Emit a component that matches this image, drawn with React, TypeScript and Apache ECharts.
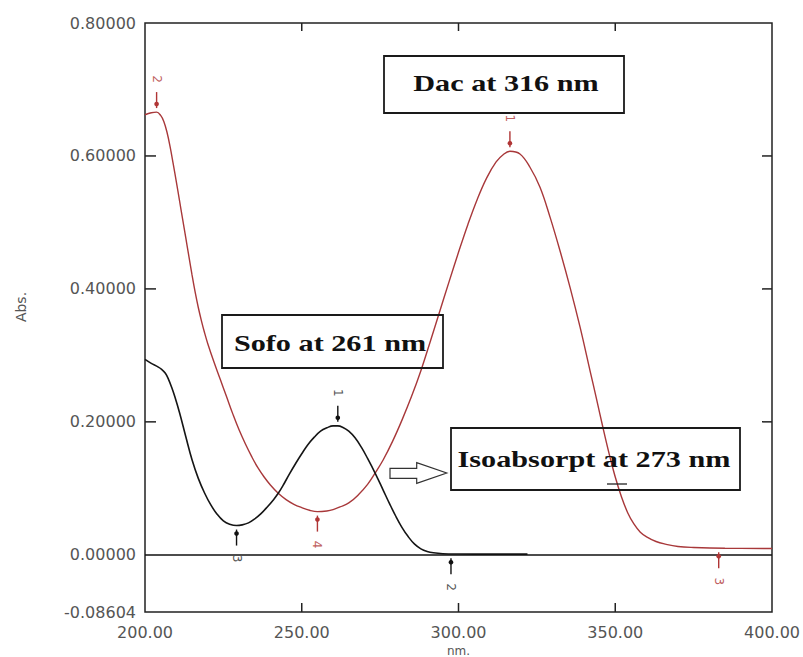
import React, { useEffect, useRef } from "react";
import * as echarts from "echarts";

// ---- Data ----
// Dac (red) spectrum
const dacNm = [200, 202, 203.7, 205, 206, 207, 208, 209, 210, 211, 212, 213, 214, 215, 216, 217, 218, 219, 220, 222, 224, 226, 228, 230, 232, 234, 236, 238, 240, 242.5, 245, 247.5, 250, 252.5, 255, 258, 260, 262.2, 265, 268, 271, 273.4, 276, 279, 282, 285, 288, 291, 294, 297, 300, 303, 306, 309, 312, 314.5, 316.4, 319.6, 322.8, 326, 329.2, 332.4, 335.6, 338.8, 342, 344, 346, 348, 350, 352, 354, 356, 358, 360, 363, 366, 370, 375, 385, 400];
const dacAbs = [0.662, 0.665, 0.666, 0.661, 0.652, 0.636, 0.614, 0.588, 0.561, 0.533, 0.505, 0.477, 0.449, 0.421, 0.395, 0.372, 0.352, 0.334, 0.318, 0.29, 0.264, 0.238, 0.212, 0.188, 0.167, 0.148, 0.131, 0.117, 0.105, 0.0925, 0.083, 0.076, 0.071, 0.067, 0.065, 0.066, 0.068, 0.072, 0.078, 0.09, 0.106, 0.123, 0.143, 0.171, 0.203, 0.238, 0.277, 0.321, 0.366, 0.411, 0.455, 0.497, 0.535, 0.567, 0.591, 0.603, 0.607, 0.603, 0.583, 0.553, 0.508, 0.457, 0.402, 0.342, 0.276, 0.235, 0.193, 0.153, 0.117, 0.087, 0.063, 0.046, 0.034, 0.027, 0.02, 0.016, 0.0125, 0.011, 0.0098, 0.0095];

// Sofo (black) spectrum
const sofoNm = [200, 202, 204, 205.3, 206.5, 207.5, 208.5, 209.5, 211, 213, 215, 217, 219, 221, 223, 225, 227, 229.2, 231, 233, 235, 237, 239, 241, 242.5, 244, 246, 248, 250, 252, 254, 256, 258, 260, 261.5, 263, 265, 267, 269, 271, 273.4, 276, 278, 280, 282, 284, 286, 288, 290, 292, 295, 300, 310, 322];
const sofoAbs = [0.294, 0.288, 0.283, 0.279, 0.273, 0.264, 0.252, 0.238, 0.214, 0.178, 0.143, 0.115, 0.093, 0.075, 0.061, 0.051, 0.046, 0.044, 0.045, 0.048, 0.054, 0.062, 0.072, 0.083, 0.0925, 0.104, 0.121, 0.137, 0.152, 0.166, 0.177, 0.186, 0.191, 0.194, 0.194, 0.192, 0.186, 0.176, 0.162, 0.145, 0.123, 0.097, 0.077, 0.058, 0.041, 0.027, 0.016, 0.009, 0.005, 0.003, 0.0017, 0.0012, 0.001, 0.001];

// Peak / valley pick markers (dir: 1 = peak marked from above, -1 = valley marked from below)
const dacMarkNm = [316.4, 203.7, 383, 255];
const dacMarkAbs = [0.607, 0.666, 0.0097, 0.065];
const dacMarkDir = [1, 1, -1, -1];
const dacMarkLabel = ["1", "2", "3", "4"];

const sofoMarkNm = [261.5, 297.6, 229.2];
const sofoMarkAbs = [0.194, 0.001, 0.044];
const sofoMarkDir = [1, -1, -1];
const sofoMarkLabel = ["1", "2", "3"];

const yTickValues = [-0.08604, 0, 0.2, 0.4, 0.6, 0.8];
const yInnerTicks = [0.2, 0.4, 0.6];
const xInnerTicks = [250, 300, 350];

const yAxisTitle = "Abs.";
const xAxisTitle = "nm.";
const annotations = ["Dac at 316 nm", "Sofo at 261 nm", "Isoabsorpt at 273 nm"];

const RED = "#a8383a";
const BLACK = "#151515";
const TICK = "#222";

function markerSeries(nm: number[], abs: number[], dir: number[], labels: string[], color: string, labelColor: string) {
  return {
    type: "custom",
    xAxisIndex: 0,
    yAxisIndex: 0,
    silent: true,
    clip: false,
    z: 5,
    data: nm.map((n, i) => [n, abs[i], dir[i]]),
    renderItem: (params: any, api: any) => {
      const p = api.coord([api.value(0), api.value(1)]);
      const d = api.value(2);
      const x = p[0];
      const y = p[1];
      const label = labels[params.dataIndex];
      return {
        type: "group",
        children: [
          { type: "line", shape: { x1: x, y1: y - d * 4, x2: x, y2: y - d * 20 }, style: { stroke: color, lineWidth: 1.4 } },
          { type: "circle", shape: { cx: x, cy: y - d * 8, r: 2.3 }, style: { fill: color } },
          {
            type: "text",
            x: x,
            y: y - d * 33,
            rotation: -Math.PI / 2,
            style: { text: label, fill: labelColor, font: '12px "DejaVu Sans"', align: "center", verticalAlign: "middle" },
          },
        ],
      };
    },
  };
}

// inward tick marks on all four sides of the plot frame, placed through the axes' scales
function xTickSeries() {
  return {
    type: "custom",
    silent: true,
    clip: false,
    z: 6,
    data: xInnerTicks.map((v) => [v, 0]),
    renderItem: (params: any, api: any) => {
      const cs = params.coordSys;
      const x = api.coord([api.value(0), 0])[0];
      const bottom = cs.y + cs.height;
      return {
        type: "group",
        children: [
          { type: "line", shape: { x1: x, y1: bottom, x2: x, y2: bottom - 9 }, style: { stroke: TICK, lineWidth: 1.5 } },
          { type: "line", shape: { x1: x, y1: cs.y, x2: x, y2: cs.y + 8 }, style: { stroke: TICK, lineWidth: 1.5 } },
        ],
      };
    },
  };
}

function yTickSeries() {
  return {
    type: "custom",
    silent: true,
    clip: false,
    z: 6,
    data: yInnerTicks.map((v) => [300, v]),
    renderItem: (params: any, api: any) => {
      const cs = params.coordSys;
      const y = api.coord([300, api.value(1)])[1];
      const right = cs.x + cs.width;
      return {
        type: "group",
        children: [
          { type: "line", shape: { x1: cs.x, y1: y, x2: cs.x + 11, y2: y }, style: { stroke: TICK, lineWidth: 1.5 } },
          { type: "line", shape: { x1: right, y1: y, x2: right - 10, y2: y }, style: { stroke: TICK, lineWidth: 1.5 } },
        ],
      };
    },
  };
}

function boxText(cx: number, cy: number, text: string) {
  return {
    type: "text",
    x: cx,
    y: cy,
    scaleX: 1.26,
    scaleY: 1,
    z: 10,
    style: { text, fill: "#111", font: 'bold 24px "Liberation Serif"', align: "center", verticalAlign: "middle" },
  };
}

function boxRect(x: number, y: number, w: number, h: number) {
  return {
    type: "rect",
    shape: { x, y, width: w, height: h },
    z: 10,
    style: { fill: "none", stroke: "#1a1a1a", lineWidth: 1.8 },
  };
}

export default function App() {
  const ref = useRef<HTMLDivElement>(null);
  useEffect(() => {
    if (!ref.current) return;
    const chart = echarts.init(ref.current, null, { renderer: "svg" });
    const labelStyle = { color: "#555", fontSize: 16, fontFamily: '"DejaVu Sans"' };
    chart.setOption({
      animation: false,
      backgroundColor: "#fff",
      grid: {
        left: 145,
        right: 31,
        top: 23,
        bottom: 45,
        show: true,
        borderColor: "#222",
        borderWidth: 1.5,
        containLabel: false,
        outerBoundsMode: "none",
      },
      xAxis: {
        type: "value",
        min: 200,
        max: 400,
        interval: 50,
        position: "bottom",
        name: xAxisTitle,
        nameLocation: "middle",
        nameGap: 29,
        nameTextStyle: { color: "#555", fontSize: 12, fontFamily: '"DejaVu Sans"' },
        axisLine: { show: false, onZero: false },
        axisTick: { show: false },
        axisLabel: { ...labelStyle, margin: 12, formatter: (v: number) => v.toFixed(2) },
        splitLine: { show: false },
      },
      yAxis: {
        type: "value",
        min: -0.08604,
        max: 0.8,
        position: "left",
        axisLine: { show: false, onZero: false },
        axisTick: { show: false },
        axisLabel: { ...labelStyle, margin: 9, customValues: yTickValues, formatter: (v: number) => v.toFixed(5) },
        splitLine: { show: false },
      },
      series: [
        {
          type: "line",
          name: "Dac",
          data: dacNm.map((n, i) => [n, dacAbs[i]]),
          showSymbol: false,
          smooth: 0.4,
          lineStyle: { color: RED, width: 1.4 },
          z: 3,
        },
        {
          type: "line",
          name: "Sofo",
          data: sofoNm.map((n, i) => [n, sofoAbs[i]]),
          showSymbol: false,
          smooth: 0.4,
          lineStyle: { color: BLACK, width: 1.6 },
          z: 4,
          markLine: {
            silent: true,
            symbol: "none",
            label: { show: false },
            lineStyle: { color: "#111", width: 1.5, type: "solid" },
            data: [{ yAxis: 0 }],
          },
        },
        markerSeries(dacMarkNm, dacMarkAbs, dacMarkDir, dacMarkLabel, "#b03535", "#c06060"),
        markerSeries(sofoMarkNm, sofoMarkAbs, sofoMarkDir, sofoMarkLabel, "#111", "#555"),
        xTickSeries(),
        yTickSeries(),
      ],
      graphic: [
        {
          type: "text",
          x: 21,
          y: 307,
          rotation: Math.PI / 2,
          style: { text: yAxisTitle, fill: "#555", font: '14px "DejaVu Sans"', align: "center", verticalAlign: "middle" },
        },
        boxRect(384, 56, 240, 57),
        boxText(506, 83, annotations[0]),
        boxRect(222, 315, 221, 53),
        boxText(330, 343, annotations[1]),
        boxRect(451, 428, 289, 62),
        boxText(594, 459, annotations[2]),
        {
          type: "polygon",
          z: 10,
          shape: {
            points: [
              [390, 468.3],
              [416.7, 468.3],
              [416.7, 462.7],
              [446.7, 473],
              [416.7, 483.3],
              [416.7, 478.3],
              [390, 478.3],
            ],
          },
          style: { fill: "#fff", stroke: "#333", lineWidth: 1.2 },
        },
        {
          type: "line",
          z: 10,
          shape: { x1: 607, y1: 484, x2: 627, y2: 484 },
          style: { stroke: "#222", lineWidth: 1.3 },
        },
      ],
    });
    return () => chart.dispose();
  }, []);
  return <div ref={ref} style={{ position: "fixed", left: 0, top: 0, width: 803, height: 657 }} />;
}
